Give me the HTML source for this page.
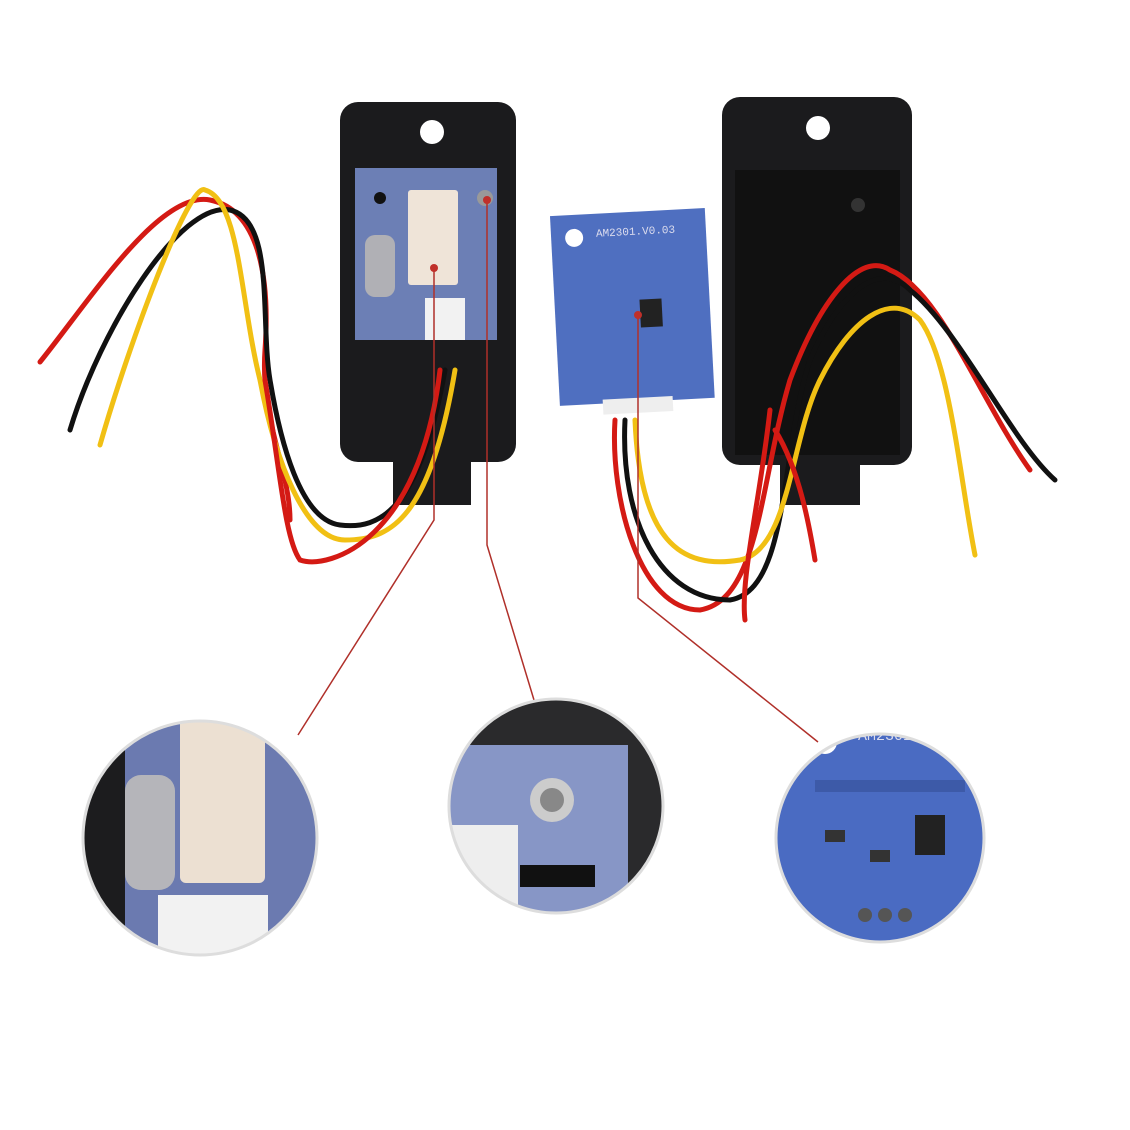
<!DOCTYPE html>
<html><head><meta charset="utf-8"><style>
html,body{margin:0;padding:0;background:#fff;}
svg{display:block}
</style></head><body>
<svg width="1130" height="1130" viewBox="0 0 1130 1130" xmlns="http://www.w3.org/2000/svg">
<defs>
<clipPath id="c1"><circle cx="200" cy="838" r="117"/></clipPath>
<clipPath id="c2"><circle cx="556" cy="806" r="107"/></clipPath>
<clipPath id="c3"><circle cx="880" cy="838" r="104"/></clipPath>
</defs>
<rect width="1130" height="1130" fill="#fff"/>
<!-- left case -->
<rect x="340" y="102" width="176" height="360" rx="18" fill="#1b1b1d"/>
<rect x="393" y="440" width="78" height="65" fill="#1b1b1d"/>
<circle cx="432" cy="132" r="12" fill="#fff"/>
<rect x="355" y="168" width="142" height="172" fill="#6c7fb5"/>
<rect x="408" y="190" width="50" height="95" rx="3" fill="#efe4d8"/>
<rect x="365" y="235" width="30" height="62" rx="10" fill="#b0b0b5"/>
<rect x="425" y="298" width="40" height="42" fill="#f2f2f2"/>
<circle cx="380" cy="198" r="6" fill="#111"/>
<circle cx="485" cy="198" r="8" fill="#999"/>
<!-- right case -->
<rect x="722" y="97" width="190" height="368" rx="18" fill="#1b1b1d"/>
<rect x="780" y="450" width="80" height="55" fill="#1b1b1d"/>
<circle cx="818" cy="128" r="12" fill="#fff"/>
<rect x="735" y="170" width="165" height="285" fill="#111"/>
<circle cx="858" cy="205" r="7" fill="#333"/>
<!-- middle pcb -->
<g transform="rotate(-3 632 310)">
<rect x="555" y="212" width="155" height="190" fill="#4f6fc0"/>
<circle cx="578" cy="235" r="9" fill="#fff"/>
<rect x="640" y="300" width="22" height="28" fill="#222"/>
<text x="600" y="235" font-family="Liberation Mono,monospace" font-size="11" fill="#dde">AM2301.V0.03</text>
<rect x="598" y="398" width="70" height="15" fill="#eee"/>
</g>
<!-- wires -->
<g fill="none" stroke-width="5" stroke-linecap="round">
<path d="M40 362 C90 300,160 190,210 200 C260 210,270 280,265 350 C260 420,290 470,290 520" stroke="#d41a14"/>
<path d="M70 430 C100 330,180 200,230 210 C275 220,260 320,270 380 C280 440,300 520,340 525 C380 530,420 510,445 370" stroke="#111"/>
<path d="M100 445 C130 340,190 180,205 190 C240 200,240 300,260 380 C275 460,305 540,345 540 C390 540,430 520,455 370" stroke="#f1c014"/>
<path d="M265 380 C280 470,285 540,300 560 C330 570,420 540,440 370" stroke="#d41a14"/>
<path d="M615 420 C610 500,640 610,700 610 C760 600,760 480,790 380 C820 300,860 250,890 270 C940 290,980 400,1030 470" stroke="#d41a14"/>
<path d="M625 420 C620 520,660 600,730 600 C790 590,780 450,810 360 C840 290,880 260,910 290 C960 330,1010 440,1055 480" stroke="#111"/>
<path d="M635 420 C640 540,680 570,740 560 C790 550,790 440,820 380 C850 320,890 290,920 320 C950 360,960 480,975 555" stroke="#f1c014"/>
<path d="M775 430 C800 470,810 530,815 560 M770 410 C760 500,740 580,745 620" stroke="#d41a14"/>
</g>
<!-- red callout lines -->
<g fill="none" stroke="#b0302a" stroke-width="1.5">
<path d="M434 268 L434 520 L298 735"/>
<path d="M487 200 L487 545 L534 700"/>
<path d="M638 315 L638 598 L818 742"/>
</g>
<circle cx="434" cy="268" r="4" fill="#c0302a"/>
<circle cx="487" cy="200" r="4" fill="#c0302a"/>
<circle cx="638" cy="315" r="4" fill="#c0302a"/>
<!-- circles -->
<g clip-path="url(#c1)">
<rect x="80" y="718" width="240" height="240" fill="#6b7ab0"/>
<rect x="80" y="718" width="45" height="240" fill="#1c1c1e"/>
<rect x="180" y="718" width="85" height="165" rx="6" fill="#ece0d2"/>
<rect x="125" y="775" width="50" height="115" rx="16" fill="#b5b5ba"/>
<rect x="158" y="895" width="110" height="70" fill="#f2f2f2"/>
<circle cx="285" cy="730" r="12" fill="#aaa"/>
</g>
<circle cx="200" cy="838" r="117" fill="none" stroke="#ddd" stroke-width="3"/>
<g clip-path="url(#c2)">
<rect x="448" y="698" width="216" height="216" fill="#2a2a2c"/>
<rect x="448" y="745" width="180" height="170" fill="#8796c6"/>
<circle cx="552" cy="800" r="22" fill="#ccc"/>
<circle cx="552" cy="800" r="12" fill="#888"/>
<rect x="448" y="825" width="70" height="90" fill="#eee"/>
<rect x="520" y="865" width="75" height="22" fill="#111"/>
</g>
<circle cx="556" cy="806" r="107" fill="none" stroke="#ddd" stroke-width="3"/>
<g clip-path="url(#c3)">
<rect x="776" y="734" width="208" height="208" fill="#4a6bc2"/>
<circle cx="825" cy="742" r="12" fill="#fff"/>
<text x="858" y="740" font-family="Liberation Mono,monospace" font-size="15" fill="#dde">AM2301.V0.</text>
<rect x="815" y="780" width="150" height="12" fill="#3d5aa8"/>
<rect x="915" y="815" width="30" height="40" fill="#222"/>
<rect x="825" y="830" width="20" height="12" fill="#333"/>
<rect x="870" y="850" width="20" height="12" fill="#333"/>
<circle cx="865" cy="915" r="7" fill="#555"/>
<circle cx="885" cy="915" r="7" fill="#555"/>
<circle cx="905" cy="915" r="7" fill="#555"/>
</g>
<circle cx="880" cy="838" r="104" fill="none" stroke="#ddd" stroke-width="3"/>
</svg>
</body></html>
